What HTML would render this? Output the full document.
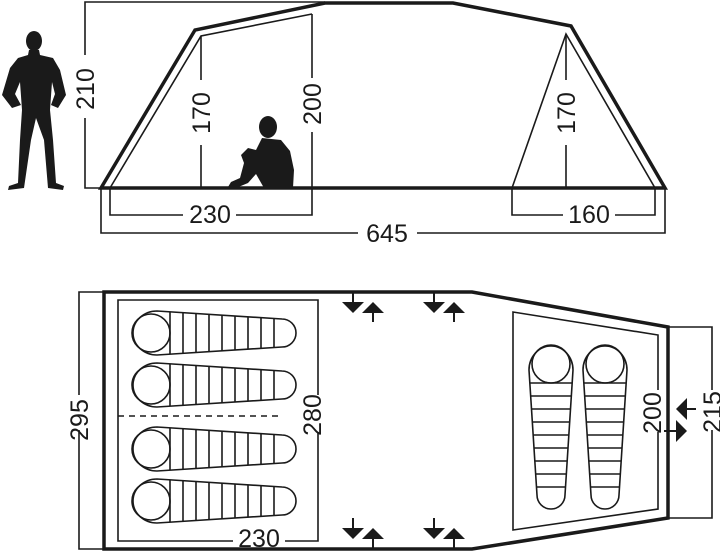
<!DOCTYPE html>
<html><head><meta charset="utf-8"><style>
html,body{margin:0;padding:0;background:#fff;}
svg{display:block;}
text{font-family:"Liberation Sans",sans-serif;font-size:25px;fill:#1a1a1a;}
</style></head><body>
<svg width="720" height="552" viewBox="0 0 720 552" xmlns="http://www.w3.org/2000/svg">
<defs>
<g id="bag" fill="none" stroke="#1a1a1a" stroke-width="1.6">
  <path d="M30 -22 L155 -14 A14 14 0 0 1 155 14 L30 22 A24 22 0 0 1 30 -22 Z"/>
  <ellipse cx="24" cy="0" rx="19" ry="19"/>
  <path d="M43 -21V21 M56 -20.5V20.5 M69 -19.5V19.5 M82 -19V19 M95 -18V18 M108 -17.5V17.5 M121 -16.5V16.5 M134 -16V16 M147 -15V15"/>
</g>
<g id="arr">
  <path d="M0 -10V2 M20 10V20" fill="none" stroke="#1a1a1a" stroke-width="2"/>
  <path d="M-11 0H11L0 11Z M9 11H31L20 0Z" fill="#1a1a1a"/>
</g>
</defs>
<g fill="none" stroke="#1a1a1a">
<path d="M101 188L195 30L325 3H453L571 26L665 188Z" stroke-width="3.5" stroke-linejoin="miter"/>
<path d="M110 188L201 36L312 14" stroke-width="1.6"/>
<path d="M655 188L566 34L512 188" stroke-width="1.6"/>
<path d="M201 36V80M201 145V188" stroke-width="1.6"/>
<path d="M312 14V78M312 132V188" stroke-width="1.6"/>
<path d="M566 34V80M566 145V188" stroke-width="1.6"/>
<path d="M325 2H85V55M85 118V188H101" stroke-width="1.6"/>
<path d="M110 188V215H183M236 215H312V188" stroke-width="1.6"/>
<path d="M512 188V215H563M615 215H655V188" stroke-width="1.6"/>
<path d="M101 188V233H358M417 233H665V188" stroke-width="1.6"/>
</g>
<text transform="translate(94,89) rotate(-90)" text-anchor="middle">210</text>
<text transform="translate(210,113) rotate(-90)" text-anchor="middle">170</text>
<text transform="translate(321,104) rotate(-90)" text-anchor="middle">200</text>
<text transform="translate(575,113) rotate(-90)" text-anchor="middle">170</text>
<text x="210" y="223" text-anchor="middle">230</text>
<text x="589" y="223" text-anchor="middle">160</text>
<text x="387" y="242" text-anchor="middle">645</text>
<g fill="#1a1a1a">
<ellipse cx="34" cy="41" rx="8" ry="10"/>
<path d="M29 50H39L40 55L53 58L60 70L66 95L58 108L51 105L55 94L52 82L50 110L53 140L56 183L64 186L63 190L48 188L44 140L36 118L31 140L24 188L8 190L9 186L18 183L20 140L22 110L20 82L15 94L21 105L12 108L2 95L10 68L18 58L28 55Z"/>
</g>
<g fill="#1a1a1a">
<ellipse cx="268" cy="127" rx="9" ry="11"/>
<path d="M262 138L281 140L290 151L294 170L293 188L264 188L256 174L248 183L236 188L228 187L231 182L240 178L244 163L241 155L248 148L256 150Z"/>
</g>
<g fill="none" stroke="#1a1a1a">
<path d="M104 292H472L668 327V518L472 549H104Z" stroke-width="3.5"/>
<path d="M104 292H79V395M79 430V549H104" stroke-width="1.6"/>
<path d="M668 327H712V390M712 430V518H668" stroke-width="1.6"/>
<path d="M318 395V300H118V541H233M285 541H318V432" stroke-width="1.6"/>
<path d="M118 416H283" stroke-width="1.6" stroke-dasharray="6,5"/>
<path d="M658 390V335L513 312V530L658 509V432" stroke-width="1.6"/>
</g>
<text transform="translate(88,420) rotate(-90)" text-anchor="middle">295</text>
<text transform="translate(321,415) rotate(-90)" text-anchor="middle">280</text>
<text x="259" y="547" text-anchor="middle">230</text>
<text transform="translate(661,413) rotate(-90)" text-anchor="middle">200</text>
<text transform="translate(721,412) rotate(-90)" text-anchor="middle">215</text>
<use href="#bag" x="127" y="333"/>
<use href="#bag" x="127" y="385"/>
<use href="#bag" x="127" y="449"/>
<use href="#bag" x="127" y="501"/>
<use href="#bag" transform="translate(551,340) rotate(90)"/>
<use href="#bag" transform="translate(605,340) rotate(90)"/>
<use href="#arr" x="353" y="302"/>
<use href="#arr" x="434" y="302"/>
<use href="#arr" x="353" y="528"/>
<use href="#arr" x="434" y="528"/>
<g fill="#1a1a1a" stroke="#1a1a1a" stroke-width="2">
<path d="M687 409H696" fill="none"/><path d="M687 398V420L676 409Z" stroke="none"/>
<path d="M664 431H676" fill="none"/><path d="M676 420V442L687 431Z" stroke="none"/>
</g>
</svg>
</body></html>
